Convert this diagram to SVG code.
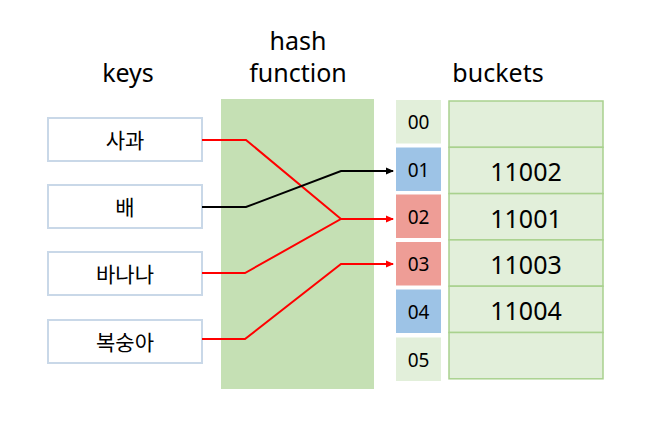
<svg xmlns="http://www.w3.org/2000/svg" width="652" height="441" viewBox="0 0 652 441">
<style>
text{font-family:"Noto Sans","Noto Sans CJK KR",sans-serif;fill:#000;text-anchor:middle}
.title{font-size:25px}
.key rect{fill:#fff;stroke:#C9D8E8;stroke-width:2}
.key text{font-size:21px}
.idx text{font-size:19px}
.g{fill:#E2EFDA}
.b{fill:#9DC3E6}
.r{fill:#EE9D96}
.bk rect{fill:#E2EFDA;stroke:#A9D18E;stroke-width:1.5}
.bk text{font-size:25px}
.c{fill:none;stroke-width:2}
</style>
<defs>
<marker id="ar" markerWidth="8" markerHeight="8" refX="7" refY="4" orient="auto" markerUnits="userSpaceOnUse"><path d="M0,0.5 L8,4 L0,7.5 Z" fill="#FF0000"/></marker>
<marker id="ab" markerWidth="8" markerHeight="8" refX="7" refY="4" orient="auto" markerUnits="userSpaceOnUse"><path d="M0,0.5 L8,4 L0,7.5 Z" fill="#000"/></marker>
</defs>
<text class="title" x="128" y="82">keys</text>
<text class="title" x="298" y="50">hash</text>
<text class="title" x="298" y="82">function</text>
<text class="title" x="498" y="82">buckets</text>
<g id="hash"><rect x="221" y="99" width="153" height="290" fill="#C5E0B4"/></g>
<g id="key1" class="key"><rect x="48" y="118" width="154" height="43"/><text x="125" y="148">사과</text></g>
<g id="key2" class="key"><rect x="48" y="185" width="154" height="43"/><text x="125" y="215">배</text></g>
<g id="key3" class="key"><rect x="48" y="252" width="154" height="43"/><text x="125" y="282">바나나</text></g>
<g id="key4" class="key"><rect x="48" y="320" width="154" height="43"/><text x="125" y="350">복숭아</text></g>
<g id="idx00" class="idx"><rect class="g" x="396" y="100" width="45" height="43.5"/><text x="418.5" y="129">00</text></g>
<g id="idx01" class="idx"><rect class="b" x="396" y="147.5" width="45" height="43.5"/><text x="418.5" y="176.5">01</text></g>
<g id="idx02" class="idx"><rect class="r" x="396" y="194.5" width="45" height="43.5"/><text x="418.5" y="223.5">02</text></g>
<g id="idx03" class="idx"><rect class="r" x="396" y="242" width="45" height="43.5"/><text x="418.5" y="271">03</text></g>
<g id="idx04" class="idx"><rect class="b" x="396" y="289.5" width="45" height="43.5"/><text x="418.5" y="318.5">04</text></g>
<g id="idx05" class="idx"><rect class="g" x="396" y="337.5" width="45" height="43.5"/><text x="418.5" y="366.5">05</text></g>
<g id="buckets" class="bk">
<rect x="449" y="101" width="154" height="46.3"/>
<rect x="449" y="147.3" width="154" height="46.3"/>
<rect x="449" y="193.6" width="154" height="46.3"/>
<rect x="449" y="239.9" width="154" height="46.3"/>
<rect x="449" y="286.2" width="154" height="46.3"/>
<rect x="449" y="332.5" width="154" height="46.3"/>
<text x="526" y="181">11002</text>
<text x="526" y="228">11001</text>
<text x="526" y="274">11003</text>
<text x="526" y="320">11004</text>
</g>
<g id="connectors">
<polyline class="c" stroke="#FF0000" points="202,140 246,140 341,219"/>
<polyline class="c" stroke="#000" points="202,207 246,207 341,171 393,171" marker-end="url(#ab)"/>
<polyline class="c" stroke="#FF0000" points="202,273 245,273 341,219 393,219" marker-end="url(#ar)"/>
<polyline class="c" stroke="#FF0000" points="202,339 245,339 341,264 393,264" marker-end="url(#ar)"/>
</g>
</svg>
